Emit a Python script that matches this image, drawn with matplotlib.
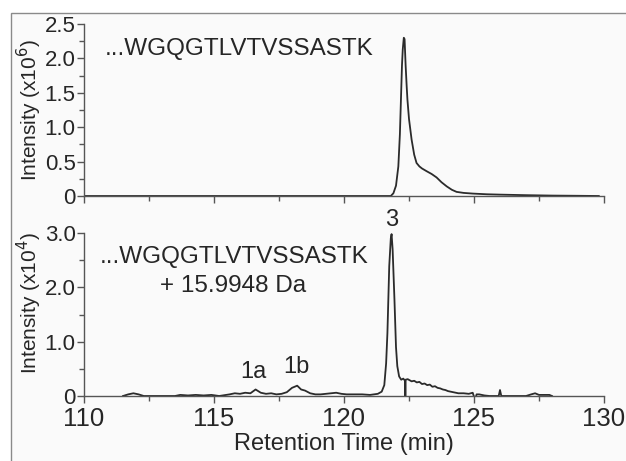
import matplotlib
matplotlib.use("Agg")
import matplotlib.pyplot as plt
from matplotlib.patches import Rectangle
from matplotlib.ticker import MultipleLocator, FixedLocator

plt.rcParams["font.family"] = ["Liberation Sans", "DejaVu Sans"]

# top trace: ...WGQGTLVTVSSASTK (x1e6)
top_time = [110.0, 121.8, 121.9, 122.0, 122.09, 122.15, 122.19, 122.23, 122.26,
            122.3, 122.33, 122.37, 122.41, 122.44, 122.5, 122.6, 122.7, 122.79,
            122.9, 123.0, 123.18, 123.37, 123.56, 123.75, 123.95, 124.15, 124.33,
            124.6, 124.96, 125.5, 126.0, 127.0, 128.0, 129.0, 129.8]
top_int = [0.0, 0.0, 0.04, 0.15, 0.43, 0.9, 1.4, 1.9, 2.13,
           2.3, 2.28, 1.9, 1.6, 1.4, 1.12, 0.82, 0.6, 0.48,
           0.43, 0.40, 0.36, 0.32, 0.27, 0.2, 0.14, 0.09, 0.06,
           0.045, 0.035, 0.025, 0.02, 0.012, 0.006, 0.003, 0.0]

# bottom trace: oxidised peptide (x1e4)
bot_time = [111.5, 111.7, 111.9, 112.1, 112.3, 113.5, 113.7, 114.0, 114.3, 114.6,
            114.9, 115.2, 115.6, 115.8, 116.0, 116.2, 116.4, 116.6, 116.8, 117.0,
            117.2, 117.4, 117.6, 117.8, 118.0, 118.2, 118.35, 118.5, 118.7, 118.9,
            119.1, 119.3, 119.5, 119.7, 119.9, 120.1, 120.4, 120.7, 121.0, 121.3,
            121.45, 121.55, 121.62, 121.67, 121.74, 121.8, 121.83, 121.87, 121.94, 122.0,
            122.05, 122.12, 122.2, 122.28, 122.35, 122.36, 122.37, 122.45, 122.6, 122.7,
            122.8, 122.9, 123.0, 123.1, 123.2, 123.3, 123.4, 123.5, 123.6, 123.7,
            123.8, 123.9, 124.0, 124.2, 124.4, 124.6, 124.8, 124.95, 125.04, 125.1,
            125.2, 125.4, 125.6, 125.95, 126.0, 126.05, 126.3, 127.0, 127.2, 127.35,
            127.5, 127.9, 128.0]
bot_int = [0.0, 0.03, 0.05, 0.03, 0.0, 0.0, 0.02, 0.01, 0.02, 0.01,
           0.02, 0.0, 0.03, 0.05, 0.04, 0.06, 0.05, 0.12, 0.06, 0.04,
           0.05, 0.03, 0.04, 0.07, 0.15, 0.19, 0.12, 0.1, 0.05, 0.03,
           0.03, 0.04, 0.05, 0.06, 0.04, 0.03, 0.03, 0.03, 0.02, 0.04,
           0.08, 0.2, 0.6, 1.16, 2.39, 2.9, 2.98, 2.7, 1.78, 0.9,
           0.55, 0.36, 0.3, 0.32, 0.28, 0.0, 0.3, 0.31, 0.27, 0.28,
           0.25, 0.26, 0.22, 0.23, 0.2, 0.21, 0.17, 0.18, 0.15, 0.14,
           0.12, 0.11, 0.09, 0.07, 0.05, 0.05, 0.04, 0.06, -0.07, 0.03,
           0.03, 0.01, 0.0, 0.0, 0.11, 0.0, 0.0, 0.0, 0.03, 0.05,
           0.02, 0.02, 0.0]

top_yticks = [0, 0.5, 1.0, 1.5, 2.0, 2.5]
top_ylabels = ["0", "0.5", "1.0", "1.5", "2.0", "2.5"]
bot_yticks = [0, 1.0, 2.0, 3.0]
bot_ylabels = ["0", "1.0", "2.0", "3.0"]
xticks = [110, 115, 120, 125, 130]

line_c = "#2b2b2b"
axis_c = "#555555"
text_c = "#262626"

fig = plt.figure(figsize=(6.26, 4.61), dpi=100)
fig.patch.set_facecolor("white")
fig.add_artist(Rectangle((11 / 626, -0.1), 1.1, 0.1 + 1 - 13 / 461,
                         transform=fig.transFigure, facecolor="#fafafa",
                         edgecolor="#8a8a8a", linewidth=1.0, zorder=0))

ax0 = fig.add_axes([84 / 626, 1 - 196 / 461, 520 / 626, 172 / 461])
ax1 = fig.add_axes([84 / 626, 1 - 396 / 461, 520 / 626, 163 / 461])

for ax in (ax0, ax1):
    ax.set_facecolor("none")
    ax.set_xlim(110, 130)
    for s in ("top", "right"):
        ax.spines[s].set_visible(False)
    for s in ("left", "bottom"):
        ax.spines[s].set_color(axis_c)
        ax.spines[s].set_linewidth(1.0)
    ax.xaxis.set_major_locator(FixedLocator(xticks))
    ax.xaxis.set_minor_locator(MultipleLocator(2.5))
    ax.tick_params(which="both", direction="out", color=axis_c, width=1.0,
                   labelcolor=text_c)
    ax.tick_params(which="major", length=5)
    ax.tick_params(which="minor", length=3.5)
    ax.tick_params(axis="y", labelsize=16, pad=1)
    ax.tick_params(axis="x", labelsize=18.5, pad=3)

ax0.plot(top_time, top_int, color=line_c, lw=1.3)
ax0.set_ylim(0, 2.5)
ax0.set_yticks(top_yticks)
ax0.set_yticklabels(top_ylabels)
ax0.yaxis.set_minor_locator(MultipleLocator(0.25))
ax0.tick_params(axis="x", labelbottom=False)
ax0.set_ylabel("Intensity (x10$^{6}$)", fontsize=15, color=text_c)
ax0.yaxis.set_label_coords(-0.076, 0.5)
ax0.text(110.8, 2.13, "...WGQGTLVTVSSASTK", fontsize=17.5, color=text_c,
         ha="left", va="center")

ax1.plot(bot_time, bot_int, color=line_c, lw=1.3)
ax1.set_ylim(0, 3.0)
ax1.set_yticks(bot_yticks)
ax1.set_yticklabels(bot_ylabels)
ax1.yaxis.set_minor_locator(MultipleLocator(0.5))
ax1.set_ylabel("Intensity (x10$^{4}$)", fontsize=15, color=text_c)
ax1.yaxis.set_label_coords(-0.076, 0.57)
ax1.set_xlabel("Retention Time (min)", fontsize=17, color=text_c, labelpad=1)
ax1.text(110.6, 2.56, "...WGQGTLVTVSSASTK", fontsize=17.5, color=text_c,
         ha="left", va="center")
ax1.text(115.73, 2.02, "+ 15.9948 Da", fontsize=17.5, color=text_c,
         ha="center", va="center")
ax1.text(116.5, 0.24, "1a", fontsize=17, color=text_c, ha="center", va="bottom")
ax1.text(118.15, 0.33, "1b", fontsize=17, color=text_c, ha="center", va="bottom")
ax1.text(121.85, 3.04, "3", fontsize=17, color=text_c, ha="center", va="bottom",
         clip_on=False)

fig.savefig("out.png", dpi=100)
